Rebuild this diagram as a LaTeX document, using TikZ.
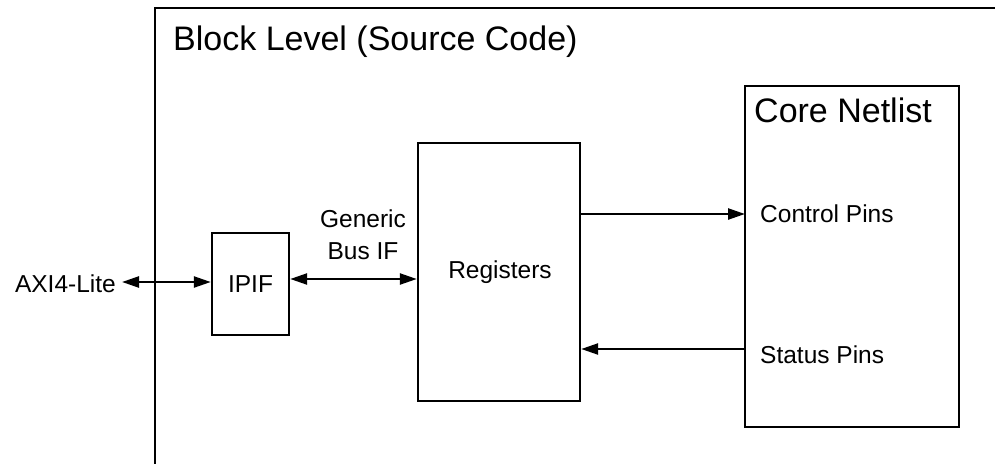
\documentclass[tikz,border=0pt]{standalone}
\usepackage{fontspec}
\setmainfont{Liberation Sans}
\usetikzlibrary{arrows.meta}
\begin{document}
\begin{tikzpicture}[x=1pt,y=-1pt,line width=2.4pt,
  blockbox/.style={draw,rectangle,inner sep=0pt},
  title/.style={inner sep=0pt,font=\fontsize{34}{40}\selectfont},
  label/.style={inner sep=0pt,font=\fontsize{24.5}{32}\selectfont},
  conn/.style={-{Triangle[length=17pt,width=11pt]}},
  biconn/.style={{Triangle[length=17pt,width=11pt]}-{Triangle[length=17pt,width=11pt]}}]
\useasboundingbox (0,0) rectangle (995,463);

% enclosing block level frame (runs past the right and bottom edges)
\begin{scope}
  \clip (0,0) rectangle (995,463);
  \draw (155,8) rectangle (1020,490);
\end{scope}
\node[title,anchor=base west] (blocktitle) at (172,50) {Block Level (Source Code)};

% blocks
\node[blockbox,minimum width=77pt,minimum height=102pt] (ipif) at (250.5,284) {};
\node[label,anchor=base] at (250.5,292) {IPIF};
\node[blockbox,minimum width=162pt,minimum height=258pt] (reg) at (499,272) {};
\node[label,anchor=base] at (500,278) {Registers};
\node[blockbox,minimum width=214pt,minimum height=341pt] (core) at (852,256.5) {};
\node[title,anchor=base west] (coretitle) at (753,122) {Core Netlist};
\node[label,anchor=base west] (cpins) at (759,222) {Control Pins};
\node[label,anchor=base west] (spins) at (759,363) {Status Pins};

% external interface and bus labels
\node[label,anchor=base east] (axi) at (117,292) {AXI4-Lite};
\node[label,align=center,anchor=base] (bus) at (363,259) {Generic\\Bus IF};

% pin rows on the core netlist
\coordinate (ctrl) at (745,214);
\coordinate (stat) at (745,349);

% connectors
\draw[biconn] ([xshift=5pt,yshift=2pt]axi.east |- ipif.west) -- ([yshift=2pt]ipif.west);
\draw[biconn] ([yshift=5pt]ipif.east) -- ([yshift=5pt]ipif.east -| reg.west);
\draw[conn] (reg.east |- ctrl) -- (ctrl);
\draw[conn] (stat) -- (reg.east |- stat);
\end{tikzpicture}
\end{document}
